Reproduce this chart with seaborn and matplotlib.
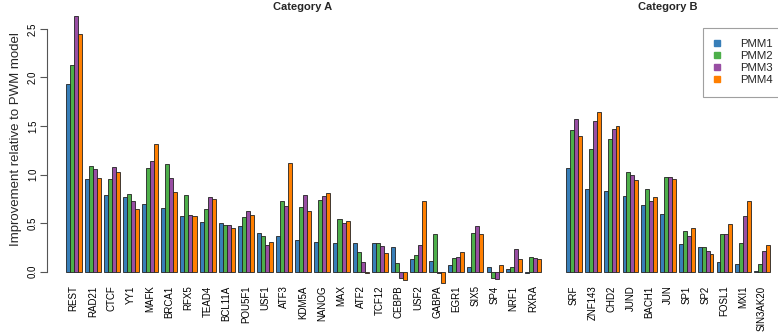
import numpy as np
import pandas as pd
import seaborn as sns
import matplotlib
matplotlib.use("Agg")
import matplotlib.pyplot as plt
from matplotlib.lines import Line2D

models = ["PMM1", "PMM2", "PMM3", "PMM4"]
colors = ["#377EB8", "#4DAF4A", "#984EA3", "#FF7F00"]

genes_a = ["REST", "RAD21", "CTCF", "YY1", "MAFK", "BRCA1", "RFX5", "TEAD4", "BCL11A",
           "POU5F1", "USF1", "ATF3", "KDM5A", "NANOG", "MAX", "ATF2", "TCF12", "CEBPB",
           "USF2", "GABPA", "EGR1", "SIX5", "SP4", "NRF1", "RXRA"]
pmm1_a = [1.93, 0.95, 0.79, 0.765, 0.70, 0.655, 0.57, 0.51, 0.50, 0.47, 0.395, 0.365, 0.33,
          0.305, 0.30, 0.30, 0.30, 0.255, 0.135, 0.11, 0.065, 0.05, 0.045, 0.025, -0.01]
pmm2_a = [2.125, 1.09, 0.95, 0.805, 1.07, 1.105, 0.785, 0.645, 0.48, 0.56, 0.365, 0.725, 0.665,
          0.735, 0.54, 0.205, 0.30, 0.085, 0.17, 0.39, 0.14, 0.395, -0.07, 0.045, 0.15]
pmm3_a = [2.635, 1.055, 1.075, 0.725, 1.145, 0.96, 0.585, 0.765, 0.48, 0.62, 0.275, 0.68, 0.785,
          0.775, 0.505, 0.10, 0.26, -0.06, 0.27, -0.015, 0.15, 0.47, -0.08, 0.235, 0.14]
pmm4_a = [2.445, 0.96, 1.025, 0.645, 1.32, 0.82, 0.57, 0.745, 0.45, 0.58, 0.31, 1.115, 0.62,
          0.815, 0.52, -0.015, 0.19, -0.085, 0.725, -0.12, 0.20, 0.385, 0.065, 0.13, 0.13]

genes_b = ["SRF", "ZNF143", "CHD2", "JUND", "BACH1", "JUN", "SP1", "SP2", "FOSL1", "MXI1", "SIN3AK20"]
pmm1_b = [1.065, 0.855, 0.83, 0.775, 0.685, 0.59, 0.29, 0.25, 0.105, 0.075, 0.007]
pmm2_b = [1.455, 1.26, 1.365, 1.025, 0.855, 0.98, 0.415, 0.25, 0.385, 0.30, 0.075]
pmm3_b = [1.57, 1.55, 1.47, 0.995, 0.725, 0.98, 0.365, 0.21, 0.39, 0.575, 0.215]
pmm4_b = [1.40, 1.64, 1.50, 0.94, 0.77, 0.95, 0.455, 0.18, 0.49, 0.73, 0.27]


def long_df(genes, series):
    rows = []
    for m, vals in zip(models, series):
        for g, v in zip(genes, vals):
            rows.append({"gene": g, "model": m, "value": v})
    return pd.DataFrame(rows)


df_a = long_df(genes_a, [pmm1_a, pmm2_a, pmm3_a, pmm4_a])
df_b = long_df(genes_b, [pmm1_b, pmm2_b, pmm3_b, pmm4_b])

sns.set_theme(style="white")
plt.rcParams["font.family"] = ["Liberation Sans", "DejaVu Sans"]

W, H = 778, 333
fig = plt.figure(figsize=(W / 100, H / 100), dpi=100)

top_px, bot_px = 12, 284
zero_px, unit_px = 271.7, 97.1
ylim = ((zero_px - bot_px) / unit_px, (zero_px - top_px) / unit_px)


def make_ax(left_px, right_px):
    return fig.add_axes([left_px / W, 1 - bot_px / H, (right_px - left_px) / W, (bot_px - top_px) / H])


ax1 = make_ax(47, 552)
ax2 = make_ax(556, 778)

pal = dict(zip(models, colors))
for ax, df, genes in [(ax1, df_a, genes_a), (ax2, df_b, genes_b)]:
    sns.barplot(data=df, x="gene", y="value", hue="model", order=genes, hue_order=models,
                palette=pal, width=0.84, edgecolor="#222222", linewidth=0.6,
                errorbar=None, legend=False, ax=ax, saturation=1)
    ax.set_ylim(*ylim)
    ax.set_xlabel("")
    ax.set_ylabel("")
    for s in ["top", "right", "bottom"]:
        ax.spines[s].set_visible(False)
    ax.tick_params(axis="x", length=0, pad=1, labelsize=7, labelrotation=90, colors="black")
    ax.set_facecolor("white")

ax1.set_xlim(-(73.7 - 47) / 19.13, 24 + (552 - 532.8) / 19.13)
ax2.set_xlim(-(574 - 556) / 18.8, 10 + (778 - 762) / 18.8)

ax1.spines["left"].set_bounds(0, 2.5)
ax1.spines["left"].set_color("#555555")
ax1.spines["left"].set_linewidth(0.8)
ax1.set_yticks([0, 0.5, 1.0, 1.5, 2.0, 2.5])
ax1.set_yticklabels(["0.0", "0.5", "1.0", "1.5", "2.0", "2.5"])
ax1.tick_params(axis="y", left=True, length=5, width=0.8, color="#555555", pad=1.5,
                labelsize=7, labelrotation=90, colors="#555555", labelcolor="black")
for lbl in ax1.get_yticklabels():
    lbl.set_va("center")

ax2.spines["left"].set_visible(False)
ax2.set_yticks([])

fig.text(0.021, 1 - 139 / H, "Improvement relative to PWM model", rotation=90,
         ha="center", va="center", fontsize=9.5)
fig.text(303 / W, 1 - 9.5 / H, "Category A", ha="center", va="baseline", fontsize=8, fontweight="bold")
fig.text(668 / W, 1 - 9.5 / H, "Category B", ha="center", va="baseline", fontsize=8, fontweight="bold")

handles = [Line2D([0], [0], marker="s", linestyle="none", markersize=3.8,
                  markerfacecolor=c, markeredgecolor=c) for c in colors]
leg = fig.legend(handles, models, loc="upper right", bbox_to_anchor=(784 / W, 1 - 28 / H),
                 bbox_transform=fig.transFigure, fontsize=8.2, frameon=True, fancybox=False,
                 handlelength=0.5, handletextpad=1.75, labelspacing=0.17, borderpad=1.0,
                 borderaxespad=0)
leg.get_frame().set_edgecolor("#888888")
leg.get_frame().set_linewidth(0.8)

fig.savefig("out.png", dpi=100, facecolor="white")
